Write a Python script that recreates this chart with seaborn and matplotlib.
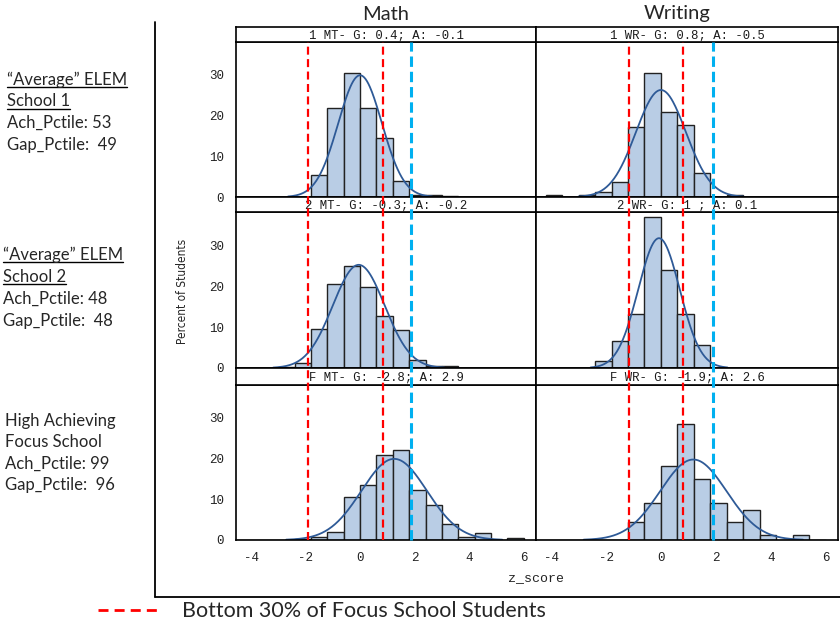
import numpy as np
import pandas as pd
import matplotlib
matplotlib.use('Agg')
import matplotlib.pyplot as plt
import seaborn as sns
from matplotlib.lines import Line2D
from matplotlib.transforms import blended_transform_factory

# ---- data ----
bin_edges = [-4.8, -4.2, -3.6, -3.0, -2.4, -1.8, -1.2, -0.6, 0.0, 0.6,
             1.2, 1.8, 2.4, 3.0, 3.6, 4.2, 4.8, 5.4, 6.0]
bin_mid = [round(a + 0.3, 2) for a in bin_edges[:-1]]

# percent of students per bin (rows: school 1, school 2, focus school)
math_pct = [
    [0, 0, 0, 0, 0, 5.3, 21.8, 30.5, 21.8, 14.4, 3.9, 0.6, 0.6, 0.3, 0, 0, 0, 0],
    [0, 0, 0, 0.3, 1.2, 9.5, 20.4, 24.9, 19.7, 12.7, 9.2, 2.0, 0.6, 0.4, 0, 0, 0, 0],
    [0, 0, 0, 0, 0.3, 0.8, 2.0, 10.5, 13.6, 20.9, 22.2, 12.3, 8.6, 3.9, 0.8, 1.8, 0, 0.4],
]
writing_pct = [
    [0, 0.6, 0, 0.6, 1.2, 3.7, 17.2, 30.4, 20.9, 17.6, 5.8, 0, 0.6, 0, 0, 0, 0, 0],
    [0, 0, 0, 0, 1.6, 6.7, 13.2, 37.0, 23.9, 13.3, 5.5, 0, 0, 0, 0, 0, 0, 0],
    [0, 0, 0, 0, 0, 0, 4.4, 9.1, 18.1, 28.6, 15.0, 9.1, 4.4, 7.3, 1.2, 0, 1.2, 0],
]

# fitted normal curves (mean, sd)
math_mean = [0.0, -0.05, 1.25]
math_sd = [0.80, 0.95, 1.20]
writing_mean = [0.0, -0.07, 1.18]
writing_sd = [0.91, 0.755, 1.21]

# reference lines
math_red = [-1.9, 0.85]
math_blue = [1.85]
writing_red = [-1.15, 0.8]
writing_blue = [1.88]

math_strips = ["1 MT- G: 0.4; A: -0.1", "2 MT- G: -0.3; A: -0.2", "F MT- G: -2.8; A: 2.9"]
writing_strips = ["1 WR- G: 0.8; A: -0.5", "2 WR- G: 1 ; A: 0.1", "F WR- G: -1.9; A: 2.6"]

col_titles = ["Math", "Writing"]
x_ticks = [-4, -2, 0, 2, 4, 6]
y_ticks = [0, 10, 20, 30]

school_labels = [
    ["\u201cAverage\u201d ELEM", "School 1", "Ach_Pctile: 53", "Gap_Pctile:  49"],
    ["\u201cAverage\u201d ELEM", "School 2", "Ach_Pctile: 48", "Gap_Pctile:  48"],
    ["High Achieving", "Focus School", "Ach_Pctile: 99", "Gap_Pctile:  96"],
]
underlined = [[True, True, False, False], [True, True, False, False], [False] * 4]

# ---- layout ----
sns.set_style("white")
plt.rcParams['font.family'] = ['DejaVu Sans']
plt.rcParams['axes.unicode_minus'] = False

W, H = 840, 627
fig = plt.figure(figsize=(W / 100, H / 100), dpi=100)


def fx(px):
    return px / W


def fy(py):
    return 1 - py / H


col_x = [236, 536]
col_w = [300, 302]
title_x = [386, 677]
panel_top = [42, 212, 385]
panel_bot = [197, 368, 540]
strip_top = [27, 197, 368]

bar_color = '#B9CDE5'
curve_color = '#2E5A97'
red = '#FF0000'
blue = '#00B0F0'
label_font = ['Lato', 'DejaVu Sans']
sas_font = ['Liberation Mono', 'DejaVu Sans Mono']

columns = [
    (math_pct, math_mean, math_sd, math_red, math_blue, math_strips),
    (writing_pct, writing_mean, writing_sd, writing_red, writing_blue, writing_strips),
]

for c, (pcts, means, sds, reds, blues, strips) in enumerate(columns):
    x0, w = col_x[c], col_w[c]
    bottom_ax = None
    for r in range(3):
        ax = fig.add_axes([fx(x0), fy(panel_bot[r]), fx(w), (panel_bot[r] - panel_top[r]) / H])
        df = pd.DataFrame({'z_score': bin_mid, 'pct': pcts[r]})
        sns.histplot(data=df, x='z_score', weights='pct', bins=bin_edges, ax=ax,
                     color=bar_color, edgecolor='#222222', linewidth=1.0, alpha=1)
        xs = np.linspace(means[r] - 3.3 * sds[r], means[r] + 3.3 * sds[r], 200)
        ys = 100 * 0.6 * np.exp(-0.5 * ((xs - means[r]) / sds[r]) ** 2) / (sds[r] * np.sqrt(2 * np.pi))
        sns.lineplot(x=xs, y=ys, ax=ax, color=curve_color, linewidth=1.3)
        ax.set_xlim(-4.55, 6.45)
        ax.set_ylim(0, 38.1)
        ax.set_xlabel('')
        ax.set_ylabel('')
        for s in ax.spines.values():
            s.set_color('black')
            s.set_linewidth(1.2)
        ax.tick_params(axis='both', direction='out', length=5.5, width=1, color='black',
                       labelsize=9, pad=3)
        ax.set_yticks(y_ticks)
        ax.set_xticks(x_ticks)
        for lab in ax.get_xticklabels() + ax.get_yticklabels():
            lab.set_family(sas_font)
            lab.set_color('#222222')
        if c != 0:
            ax.tick_params(axis='y', left=False, labelleft=False)
        if r != 2:
            ax.tick_params(axis='x', bottom=False, labelbottom=False)
        else:
            bottom_ax = ax

        # strip
        sax = fig.add_axes([fx(x0), fy(panel_top[r]), fx(w), (panel_top[r] - strip_top[r]) / H])
        sax.set_xticks([])
        sax.set_yticks([])
        for s in sax.spines.values():
            s.set_color('black')
            s.set_linewidth(1.2)
        sax.text(0.5, 0.45, strips[r], ha='center', va='center', fontsize=8.8,
                 family=sas_font, color='#1a1a1a', transform=sax.transAxes)

    # reference lines spanning all rows
    tr = blended_transform_factory(bottom_ax.transData, fig.transFigure)
    for xv in reds:
        fig.add_artist(Line2D([xv, xv], [fy(540), fy(42)], transform=tr, color=red,
                              linewidth=1.6, linestyle=(0, (3.6, 2.0))))
    for xv in blues:
        fig.add_artist(Line2D([xv, xv], [fy(540), fy(42)], transform=tr, color=blue,
                              linewidth=2.2, linestyle=(0, (3.4, 1.6))))

    fig.text(fx(title_x[c]), fy(14), col_titles[c], ha='center', va='center',
             fontsize=14.5, family=label_font)

fig.text(fx(183), fy(291), "Percent of Students", rotation=90, ha='center', va='center',
         fontsize=8.5, fontstretch='condensed', family=['DejaVu Sans'])
fig.text(fx(536), fy(578), "z_score", ha='center', va='center', fontsize=9.5,
         family=sas_font, color='#222222')

# frame
fig.add_artist(Line2D([fx(155), fx(155)], [fy(22), fy(597)], color='black', linewidth=1.3))
fig.add_artist(Line2D([fx(155), fx(840)], [fy(597), fy(597)], color='black', linewidth=1.3))

# legend
fig.add_artist(Line2D([fx(98), fx(160)], [fy(610), fy(610)], color=red, linewidth=2,
                      linestyle=(0, (3.6, 2.2))))
fig.text(fx(182), fy(611), "Bottom 30% of Focus School Students", ha='left', va='center',
         fontsize=15.5, family=label_font)

# school labels on the left
block_x = [7, 3, 5]
block_base = [[85, 106.5, 128, 150], [260, 282, 304, 326], [426, 447, 469, 490]]
texts = []
for b in range(3):
    for i, lab in enumerate(school_labels[b]):
        t = fig.text(fx(block_x[b]), fy(block_base[b][i]), lab, ha='left', va='baseline',
                     fontsize=12, family=label_font)
        texts.append((t, underlined[b][i], block_base[b][i]))

fig.canvas.draw()
renderer = fig.canvas.get_renderer()
for t, ul, base in texts:
    if ul:
        bb = t.get_window_extent(renderer)
        fig.add_artist(Line2D([bb.x0 / W, bb.x1 / W], [fy(base + 2), fy(base + 2)],
                              color='black', linewidth=1))

fig.savefig('out.png', dpi=100)
